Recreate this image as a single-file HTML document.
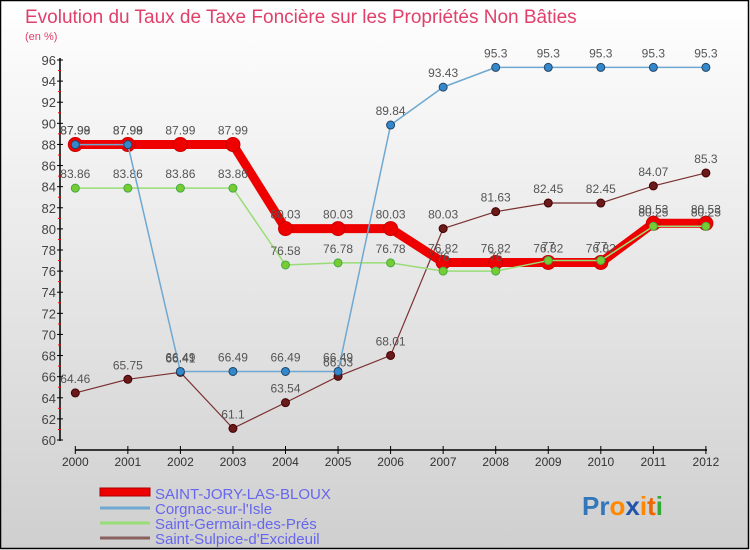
<!DOCTYPE html>
<html><head><meta charset="utf-8"><style>
body{margin:0;}
#c{width:750px;height:550px;position:relative;overflow:hidden;font-family:"Liberation Sans",sans-serif;}
</style></head><body>
<div id="c">
<svg width="750" height="550">
<defs><linearGradient id="bg" x1="0" y1="0" x2="0" y2="1"><stop offset="0" stop-color="#ffffff"/><stop offset="1" stop-color="#cfcfcf"/></linearGradient></defs>
<rect x="0.5" y="0.5" width="748" height="548" fill="url(#bg)" stroke="#000" stroke-width="1.5"/>
<text x="25" y="23" font-size="19" fill="#e0406a">Evolution du Taux de Taxe Foncière sur les Propriétés Non Bâties</text>
<text x="25" y="40" font-size="11" fill="#e0406a">(en %)</text>
<g id="axes"></g><g id="series"></g>
<g>
<rect x="100" y="488" width="50" height="8" fill="#ee0000" stroke="#a00" stroke-width="1"/>
<text x="155" y="499" font-size="15" fill="#6666ee">SAINT-JORY-LAS-BLOUX</text>
<line x1="100" x2="150" y1="508" y2="508" stroke="#6fa8d0" stroke-width="3"/>
<text x="155" y="514" font-size="15" fill="#6666ee">Corgnac-sur-l'Isle</text>
<line x1="100" x2="150" y1="523" y2="523" stroke="#99dd77" stroke-width="3"/>
<text x="155" y="529" font-size="15" fill="#6666ee">Saint-Germain-des-Prés</text>
<line x1="100" x2="150" y1="538" y2="538" stroke="#8a6060" stroke-width="3"/>
<text x="155" y="544" font-size="15" fill="#6666ee">Saint-Sulpice-d'Excideuil</text>
</g>
<text x="582" y="515" font-size="26" font-weight="bold"><tspan fill="#3377bb">Pr</tspan><tspan fill="#ff8800">o</tspan><tspan fill="#2255aa">x</tspan><tspan fill="#ff8800">i</tspan><tspan fill="#ee6600">t</tspan><tspan fill="#33aa33">i</tspan></text>
</svg>
</div>
<script>
const years=[2000,2001,2002,2003,2004,2005,2006,2007,2008,2009,2010,2011,2012];
const yTicks=[60,62,64,66,68,70,72,74,76,78,80,82,84,86,88,90,92,94,96];
const saintJory=[87.99,87.99,87.99,87.99,80.03,80.03,80.03,76.82,76.82,76.82,76.82,80.53,80.53];
const corgnac=[87.98,87.98,66.49,66.49,66.49,66.49,89.84,93.43,95.3,95.3,95.3,95.3,95.3];
const saintGermain=[83.86,83.86,83.86,83.86,76.58,76.78,76.78,76,76,77,77,80.25,80.25];
const saintSulpice=[64.46,65.75,66.41,61.1,63.54,66.03,68.01,80.03,81.63,82.45,82.45,84.07,85.3];
const NS="http://www.w3.org/2000/svg";
const xS=i=>75.3+i*52.55;
const yS=v=>440-(v-60)*(380/36);
function mk(tag,attrs,parent){const e=document.createElementNS(NS,tag);for(const k in attrs)e.setAttribute(k,attrs[k]);parent.appendChild(e);return e;}
const ax=document.getElementById('axes');
const yl=mk('line',{x1:60,x2:60,y1:58,y2:441,stroke:'#000','stroke-width':1.5},ax);


yTicks.forEach(t=>{
 const tl=mk('line',{x1:57,x2:63,y1:yS(t),y2:yS(t),stroke:'#000'},ax);
 
 
 if(t<96){const m=mk('line',{x1:58,x2:61,y1:yS(t+1),y2:yS(t+1),stroke:'#f00'},ax);
 
 }
 const tx=mk('text',{x:56,y:yS(t)+5,'text-anchor':'end','font-size':13,fill:'#444'},ax);
 tx.textContent=t;
 
 
});
const xl=mk('line',{x1:75,x2:707,y1:450,y2:450,stroke:'#000','stroke-width':1.5},ax);


years.forEach((y,i)=>{
 const tl=mk('line',{x1:xS(i),x2:xS(i),y1:446,y2:454,stroke:'#000'},ax);
 
 
 const tx=mk('text',{x:xS(i),y:466,'text-anchor':'middle','font-size':12,fill:'#333'},ax);
 tx.textContent=y;
 
 
});
const sg=document.getElementById('series');
function draw(vals,name,color,w,r,fill,stroke){
 const g=mk('g',{},sg);
 
 
 const p=mk('polyline',{points:vals.map((v,i)=>xS(i)+','+yS(v)).join(' '),fill:'none',stroke:color,'stroke-width':w,'stroke-linejoin':'round'},g);
 
 
 vals.forEach((v,i)=>{
  const c=mk('circle',{cx:xS(i),cy:yS(v),r:r,fill:fill,stroke:stroke,'stroke-width':1},g);
  
  
  const t=mk('text',{x:xS(i),y:yS(v)-10,'text-anchor':'middle','font-size':12,fill:'#555'},g);
  t.textContent=v;
  
  
 });
}
draw(saintJory,'saint-jory','#ee0000',9,7,'#ee0000','#c00');
draw(saintSulpice,'saint-sulpice','#7a3030',1.2,4,'#6a1a1a','#400');
draw(saintGermain,'saint-germain','#99dd77',1.5,4,'#77cc33','#4a4');
draw(corgnac,'corgnac','#6fa8d0',1.5,4,'#3388cc','#246');
</script>
</body></html>
